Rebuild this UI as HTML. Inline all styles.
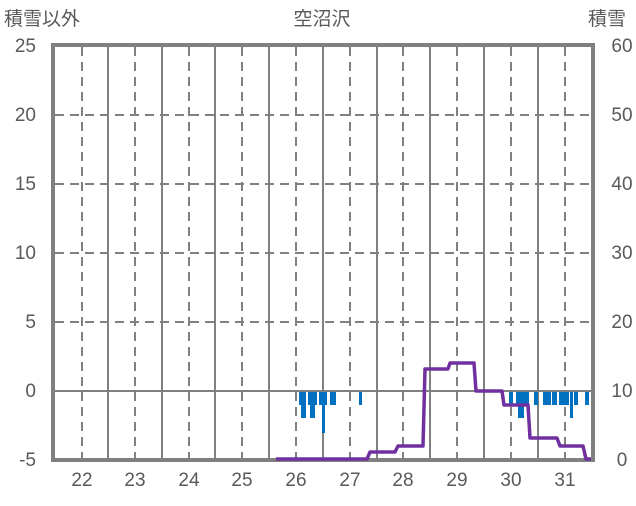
<!DOCTYPE html>
<html><head><meta charset="utf-8"><style>
html,body{margin:0;padding:0;background:#fff;}
svg text{font-family:"Liberation Sans","Noto Sans CJK JP",sans-serif;fill:#595959;font-size:19px;}
</style></head><body>
<svg width="636" height="501" viewBox="0 0 636 501" xmlns="http://www.w3.org/2000/svg">
<rect width="636" height="501" fill="#fff"/>
<g stroke="#808080" stroke-width="2" stroke-dasharray="9,6">
<line x1="55" x2="591" y1="115" y2="115"/><line x1="55" x2="591" y1="184" y2="184"/>
<line x1="55" x2="591" y1="253" y2="253"/><line x1="55" x2="591" y1="322" y2="322"/>
<line x1="82" x2="82" y1="47" y2="458"/><line x1="135" x2="135" y1="47" y2="458"/>
<line x1="189" x2="189" y1="47" y2="458"/><line x1="242" x2="242" y1="47" y2="458"/>
<line x1="296" x2="296" y1="47" y2="458"/><line x1="350" x2="350" y1="47" y2="458"/>
<line x1="403" x2="403" y1="47" y2="458"/><line x1="457" x2="457" y1="47" y2="458"/>
<line x1="511" x2="511" y1="47" y2="458"/><line x1="565" x2="565" y1="47" y2="458"/>
</g>
<g stroke="#808080" stroke-width="2">
<line x1="108" x2="108" y1="47" y2="458"/><line x1="162" x2="162" y1="47" y2="458"/>
<line x1="215" x2="215" y1="47" y2="458"/><line x1="269" x2="269" y1="47" y2="458"/>
<line x1="323" x2="323" y1="47" y2="458"/><line x1="377" x2="377" y1="47" y2="458"/>
<line x1="430" x2="430" y1="47" y2="458"/><line x1="484" x2="484" y1="47" y2="458"/>
<line x1="538" x2="538" y1="47" y2="458"/>
<line x1="55" x2="591" y1="391" y2="391"/>
</g>
<g fill="#0070C0">
<rect x="299" y="392" width="2" height="13"/><rect x="301" y="392" width="5" height="26"/>
<rect x="308" y="392" width="2" height="13"/><rect x="310" y="392" width="5" height="26"/><rect x="315" y="392" width="2" height="13"/>
<rect x="319" y="392" width="3" height="13"/><rect x="322" y="392" width="3" height="41"/><rect x="325" y="392" width="2" height="13"/>
<rect x="330" y="392" width="6" height="13"/>
<rect x="359" y="392" width="3" height="13"/>
<rect x="509" y="392" width="4" height="13"/>
<rect x="516" y="392" width="13" height="13"/><rect x="518" y="392" width="6" height="26"/>
<rect x="534" y="392" width="4" height="13"/>
<rect x="543" y="392" width="8" height="13"/>
<rect x="552" y="392" width="5" height="13"/>
<rect x="559" y="392" width="10" height="13"/><rect x="570" y="392" width="3" height="26"/>
<rect x="574" y="392" width="4" height="13"/>
<rect x="585" y="392" width="4" height="13"/>
</g>
<rect x="53" y="45" width="540" height="415" fill="none" stroke="#808080" stroke-width="4"/>
<polyline fill="none" stroke="#7030A0" stroke-width="3.5" stroke-linejoin="round" points="276,459 367,459 370,452 395,452 398,446 423,446 425,369 448,369 450,363 474,363 476,391 502,391 504,405 528,405 530,438 557,438 560,446 583,446 586,459 591,459"/>
<g text-anchor="end">
<text x="36" y="52">25</text><text x="36" y="121">20</text><text x="36" y="190">15</text>
<text x="36" y="259">10</text><text x="36" y="328">5</text><text x="36" y="397">0</text><text x="36" y="466">-5</text>
</g>
<g text-anchor="middle">
<text x="622" y="52">60</text><text x="622" y="121">50</text><text x="622" y="190">40</text>
<text x="622" y="259">30</text><text x="622" y="328">20</text><text x="622" y="397">10</text><text x="622" y="466">0</text>
<text x="82" y="486">22</text><text x="135" y="486">23</text><text x="189" y="486">24</text><text x="242" y="486">25</text>
<text x="296" y="486">26</text><text x="350" y="486">27</text><text x="403" y="486">28</text><text x="457" y="486">29</text>
<text x="511" y="486">30</text><text x="565" y="486">31</text>
<text x="322" y="25">空沼沢</text>
</g>
<text x="4" y="25">積雪以外</text>
<text x="588" y="25">積雪</text>
</svg>
</body></html>
